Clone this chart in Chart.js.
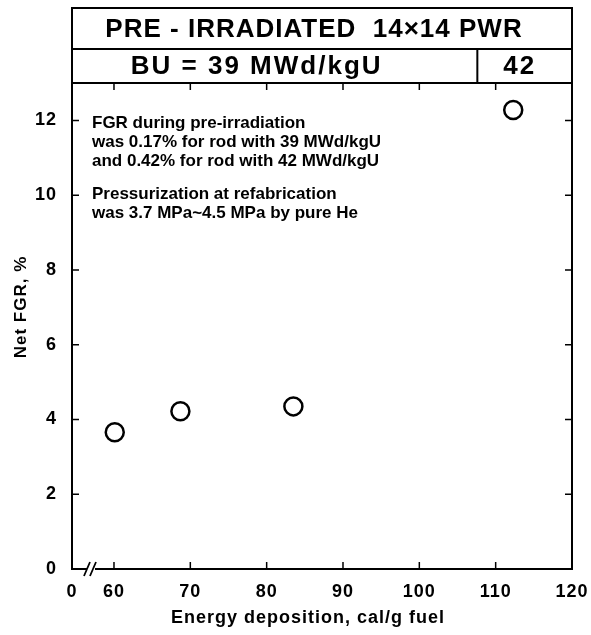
<!DOCTYPE html>
<html>
<head>
<meta charset="utf-8">
<script src="https://cdn.jsdelivr.net/npm/chart.js@4.4.1/dist/chart.umd.min.js"></script>
<style>
  html, body { margin: 0; padding: 0; background: #fff; }
  #wrap { width: 591px; height: 635px; }
</style>
</head>
<body>
<div id="wrap"><canvas id="fgrChart" width="591" height="635"></canvas></div>
<script>
// data
const energy39 = [60.1, 68.7, 83.5]
const fgr39 = [3.66, 4.22, 4.35]
const energy42 = [112.3]
const fgr42 = [12.28]

const xTicks = [60, 70, 80, 90, 100, 110, 120]
const yTicks = [0, 2, 4, 6, 8, 10, 12]
const xBreak = 54.5      // where the broken axis shows "0"
const xBreakLabel = "0"
const xMax = 120
const yMax = 13
const buSplit = 107.6    // border between the 39 and 42 MWd/kgU columns

const xTitle = "Energy deposition, cal/g fuel"
const yTitle = "Net FGR, %"
const headerTitle = "PRE - IRRADIATED  14\u00d714 PWR"
const headerBU39 = "BU = 39 MWd/kgU"
const headerBU42 = "42"
const noteLines = [
  ["FGR during pre-irradiation",
   "was 0.17% for rod with 39 MWd/kgU",
   "and 0.42% for rod with 42 MWd/kgU"],
  ["Pressurization at refabrication",
   "was 3.7 MPa~4.5 MPa by pure He"]
]

const FONT = "'Liberation Sans', Arial, sans-serif"

const framePlugin = {
  id: "frame",
  beforeDraw(chart){
    // the scanned figure uses a wide, loosely spaced bold face
    chart.ctx.letterSpacing = "1px"
  },
  afterDatasetsDraw(chart){
    const ctx = chart.ctx
    const a = chart.chartArea
    const xs = chart.scales.x, ys = chart.scales.y
    ctx.save()
    ctx.strokeStyle = "#000"
    ctx.lineWidth = 2
    ctx.strokeRect(a.left, a.top, a.right - a.left, a.bottom - a.top)

    // inward tick marks on all four sides
    ctx.lineWidth = 1.5
    const tl = 7
    ctx.beginPath()
    xTicks.forEach(v => {
      const px = xs.getPixelForValue(v)
      ctx.moveTo(px, a.bottom); ctx.lineTo(px, a.bottom - tl)
      ctx.moveTo(px, a.top); ctx.lineTo(px, a.top + tl)
    })
    yTicks.forEach(v => {
      const py = ys.getPixelForValue(v)
      ctx.moveTo(a.left, py); ctx.lineTo(a.left + tl, py)
      ctx.moveTo(a.right, py); ctx.lineTo(a.right - tl, py)
    })
    ctx.stroke()

    // axis break
    const bx = xs.getPixelForValue((xBreak + 60) / 2) - 2
    ctx.fillStyle = "#fff"
    ctx.fillRect(bx - 4, a.bottom - 3, 8, 6)
    ctx.lineWidth = 1.8
    ctx.beginPath()
    ctx.moveTo(bx - 7, a.bottom + 7); ctx.lineTo(bx - 1, a.bottom - 7)
    ctx.moveTo(bx - 1, a.bottom + 7); ctx.lineTo(bx + 5, a.bottom - 7)
    ctx.stroke()

    // header table
    const top = 8, mid = 49
    ctx.lineWidth = 2
    ctx.strokeRect(a.left, top, a.right - a.left, a.top - top)
    const sx = xs.getPixelForValue(buSplit)
    ctx.beginPath()
    ctx.moveTo(a.left, mid); ctx.lineTo(a.right, mid)
    ctx.moveTo(sx, mid); ctx.lineTo(sx, a.top)
    ctx.stroke()
    ctx.fillStyle = "#000"
    ctx.textAlign = "center"
    ctx.textBaseline = "middle"
    ctx.font = "bold 26px " + FONT
    ctx.letterSpacing = "1px"
    ctx.fillText(headerTitle, (a.left + a.right) / 2 - 8, (top + mid) / 2 + 1)
    ctx.letterSpacing = "2px"
    ctx.fillText(headerBU39, (a.left + sx) / 2 - 18, (mid + a.top) / 2 + 1)
    ctx.fillText(headerBU42, (sx + a.right) / 2 - 5, (mid + a.top) / 2 + 1)

    // axis titles
    ctx.font = "bold 18px " + FONT
    ctx.letterSpacing = "1px"
    ctx.fillText(xTitle, (a.left + a.right) / 2 - 14, 618)
    ctx.save()
    ctx.translate(21, (a.top + a.bottom) / 2 - 19)
    ctx.rotate(-Math.PI / 2)
    ctx.font = "bold 17px " + FONT
    ctx.fillText(yTitle, 0, 0)
    ctx.restore()

    // note text
    ctx.textAlign = "left"
    ctx.letterSpacing = "0px"
    ctx.font = "bold 17px " + FONT
    let y = 123
    noteLines.forEach(group => {
      group.forEach(line => {
        ctx.fillText(line, a.left + 20, y)
        y += 19
      })
      y += 14
    })
    ctx.restore()
  }
}

new Chart(document.getElementById("fgrChart"), {
  type: "scatter",
  data: {
    datasets: [
      {
        label: "39 MWd/kgU",
        data: energy39.map((x, i) => ({x: x, y: fgr39[i]}))
      },
      {
        label: "42 MWd/kgU",
        data: energy42.map((x, i) => ({x: x, y: fgr42[i]}))
      }
    ]
  },
  options: {
    responsive: false,
    animation: false,
    layout: { padding: { top: 83, right: 19, left: 0, bottom: 0 } },
    elements: {
      point: {
        pointStyle: "circle",
        radius: 9,
        borderWidth: 2.5,
        borderColor: "#000",
        backgroundColor: "rgba(255,255,255,0)"
      }
    },
    plugins: {
      legend: { display: false },
      tooltip: { enabled: false }
    },
    scales: {
      x: {
        type: "linear",
        min: xBreak,
        max: xMax,
        afterFit: s => { s.height = 66; s.paddingLeft = 0; s.paddingRight = 0 },
        afterBuildTicks: s => {
          s.ticks = [xBreak].concat(xTicks).map(v => ({value: v}))
        },
        grid: { display: false, drawTicks: false },
        border: { display: false },
        ticks: {
          padding: 12,
          color: "#000",
          font: { family: FONT, size: 18, weight: "bold" },
          callback: v => v === xBreak ? xBreakLabel : v
        },
        title: { display: false, text: xTitle }
      },
      y: {
        type: "linear",
        min: 0,
        max: yMax,
        afterFit: s => { s.width = 72 },
        afterBuildTicks: s => {
          s.ticks = yTicks.map(v => ({value: v}))
        },
        grid: { display: false, drawTicks: false },
        border: { display: false },
        ticks: {
          padding: 15,
          color: "#000",
          font: { family: FONT, size: 18, weight: "bold" }
        },
        title: { display: false, text: yTitle }
      }
    }
  },
  plugins: [framePlugin]
})
</script>
</body>
</html>
